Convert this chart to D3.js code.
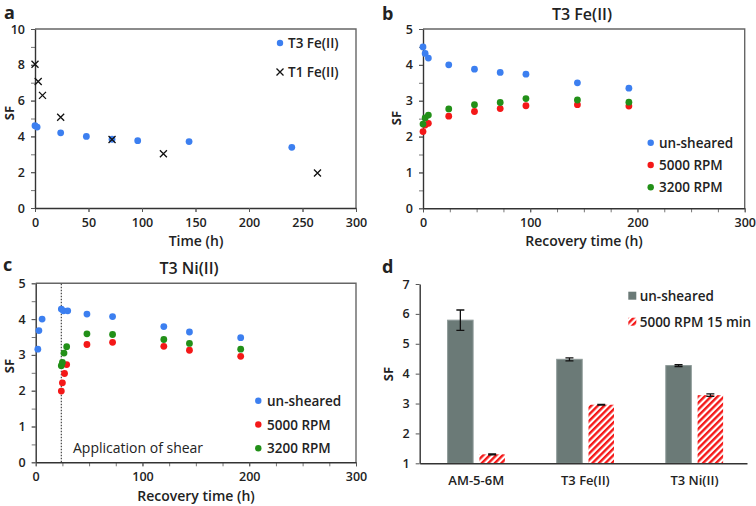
<!DOCTYPE html>
<html><head><meta charset="utf-8">
<script src="https://cdn.jsdelivr.net/npm/d3@7"></script>
<style>
body{margin:0;background:#fff;}
text{font-family:"Open Sans",sans-serif;fill:#222;}
</style></head><body>
<svg id="c" width="756" height="506"></svg>
<script>
// ---- Panel a data ----
const aT3Time = [0, 2, 24, 48, 72, 96, 144, 240];
const aT3SF   = [4.6, 4.52, 4.2, 4.0, 3.84, 3.76, 3.71, 3.39];
const aT1Time = [0, 3, 7, 24, 72, 120, 264];
const aT1SF   = [8.03, 7.07, 6.29, 5.07, 3.83, 3.03, 1.96];

// ---- Panel b data (T3 Fe(II)) ----
const bTime        = [0, 2, 5, 24, 48, 72, 96, 144, 192];
const bUnsheared   = [4.5, 4.32, 4.19, 4.0, 3.88, 3.79, 3.74, 3.5, 3.35];
const b5000        = [2.14, 2.32, 2.37, 2.57, 2.7, 2.78, 2.86, 2.89, 2.85];
const b3200        = [2.35, 2.52, 2.6, 2.77, 2.89, 2.95, 3.06, 3.02, 2.96];

// ---- Panel c data (T3 Ni(II)) ----
const cUnshTime    = [2, 3, 6, 24, 26, 30, 48, 72, 120, 144, 192];
const cUnsheared   = [3.16, 3.68, 4.0, 4.28, 4.23, 4.23, 4.14, 4.07, 3.79, 3.64, 3.48];
const c5000Time    = [24, 25, 27, 29, 48, 72, 120, 144, 192];
const c5000        = [1.99, 2.22, 2.48, 2.73, 3.29, 3.35, 3.24, 3.13, 2.96];
const c3200Time    = [24, 25, 26.5, 29, 48, 72, 120, 144, 192];
const c3200        = [2.7, 2.79, 3.05, 3.23, 3.59, 3.57, 3.43, 3.32, 3.16];
const cShearTime   = 24;

// ---- Panel d data ----
const dCategories  = ["AM-5-6M", "T3 Fe(II)", "T3 Ni(II)"];
const dUnsheared   = [5.79, 4.48, 4.27];
const dUnshErr     = [0.34, 0.05, 0.03];
const d5000        = [1.3, 2.96, 3.28];
const d5000Err     = [0.015, 0.015, 0.04];
const dSeries      = ["un-sheared", "5000 RPM 15 min"];

const seriesNames = ["un-sheared", "5000 RPM", "3200 RPM"];

const BLUE = "#3c7ff0", RED = "#f41818", GREEN = "#229018", GRAY = "#6b7a77";
const svg = d3.select("#c");
const fmt = d3.format("d");

const defs = svg.append("defs");
const pat = defs.append("pattern").attr("id","hatch").attr("patternUnits","userSpaceOnUse")
  .attr("width",4.6).attr("height",4.6).attr("patternTransform","rotate(45)");
pat.append("rect").attr("width",4.6).attr("height",4.6).attr("fill","#fff");
pat.append("rect").attr("width",2.4).attr("height",4.6).attr("fill",RED);

function styleAxis(g){
  g.selectAll("path.domain").attr("stroke","#333").attr("stroke-width",1.4);
  g.selectAll(".tick line").attr("stroke","#555");
  g.selectAll(".tick text").style("font-size","12.5px").style("font-weight","600").attr("fill","#222");
}

function framePanel(x, y, opts){
  const g = svg.append("g");
  const [x0,x1] = x.range(), [y0,y1] = y.range();
  g.append("path").attr("d",`M${x0},${y1}H${x1}V${y0}`).attr("fill","none").attr("stroke","#666").attr("stroke-width",1.4);
  const xm = g.append("g").attr("transform",`translate(0,${y0})`)
    .call(d3.axisBottom(x).tickValues(d3.range(x.domain()[0], x.domain()[1]+0.001, opts.xMinor)).tickSize(4).tickFormat(""));
  xm.select("path.domain").remove();
  xm.selectAll(".tick line").attr("stroke","#777");
  const ym = g.append("g").attr("transform",`translate(${x0},0)`)
    .call(d3.axisLeft(y).tickValues(d3.range(y.domain()[0], y.domain()[1]+0.001, opts.yMinor)).tickSize(4).tickFormat(""));
  ym.select("path.domain").remove();
  ym.selectAll(".tick line").attr("stroke","#777");
  const xa = g.append("g").attr("transform",`translate(0,${y0})`)
    .call(d3.axisBottom(x).tickValues(opts.xTicks).tickFormat(fmt).tickSize(4).tickPadding(6).tickSizeOuter(0));
  styleAxis(xa);
  const ya = g.append("g").attr("transform",`translate(${x0},0)`)
    .call(d3.axisLeft(y).tickValues(opts.yTicks).tickFormat(fmt).tickSize(4).tickPadding(6).tickSizeOuter(0));
  styleAxis(ya);
  return g;
}

function label(x,y,t,size,weight,anchor,rot){
  const tx = svg.append("text").attr("x",x).attr("y",y).text(t)
    .style("font-size",size+"px").style("font-weight",weight).attr("text-anchor",anchor||"start");
  if(rot) tx.attr("transform",`rotate(${rot},${x},${y})`);
  return tx;
}
function dots(g, x, y, xs, ys, color){
  g.selectAll(null).data(xs).enter().append("circle")
    .attr("cx",(d)=>x(d)).attr("cy",(d,i)=>y(ys[i])).attr("r",3.4).attr("fill",color);
}
function cross(g, cx, cy, s){
  g.append("path").attr("d",`M${cx-s},${cy-s}L${cx+s},${cy+s}M${cx-s},${cy+s}L${cx+s},${cy-s}`)
    .attr("stroke","#111").attr("stroke-width",1.3);
}

// ===== Panel a =====
{
  const x = d3.scaleLinear().domain([0,300]).range([35,356]);
  const y = d3.scaleLinear().domain([0,10]).range([208,29]);
  const g = framePanel(x,y,{xTicks:d3.range(0,301,50), yTicks:d3.range(0,11,2), xMinor:50, yMinor:1});
  dots(g,x,y,aT3Time,aT3SF,BLUE);
  aT1Time.forEach((t,i)=>cross(g,x(t),y(aT1SF[i]),3.5));
  label(4,19,"a",18,"700");
  label(196,246,"Time (h)",14,"600","middle");
  label(14,113,"SF",13,"700","middle",-90);
  g.append("circle").attr("cx",280).attr("cy",43).attr("r",3.2).attr("fill",BLUE);
  label(288,48,"T3 Fe(II)",13.5,"600");
  cross(g,280,72,3.5);
  label(288,77,"T1 Fe(II)",13.5,"600");
}

// ===== Panel b =====
{
  const x = d3.scaleLinear().domain([0,300]).range([423,744.7]);
  const y = d3.scaleLinear().domain([0,5]).range([208.3,29]);
  const g = framePanel(x,y,{xTicks:d3.range(0,301,100), yTicks:d3.range(0,6,1), xMinor:25, yMinor:0.5});
  dots(g,x,y,bTime,b5000,RED);
  dots(g,x,y,bTime,b3200,GREEN);
  dots(g,x,y,bTime,bUnsheared,BLUE);
  label(382,20,"b",18,"700");
  label(582,20,"T3 Fe(II)",16,"600","middle");
  label(584,246,"Recovery time (h)",14,"600","middle");
  label(401,118,"SF",13,"700","middle",-90);
  [BLUE,RED,GREEN].forEach((c,i)=>{
    const yy = 142.7 + i*22.3;
    g.append("circle").attr("cx",650.7).attr("cy",yy).attr("r",3.2).attr("fill",c);
    label(659,yy+5,seriesNames[i],13.5,"600");
  });
}

// ===== Panel c =====
{
  const x = d3.scaleLinear().domain([0,300]).range([35.7,356]);
  const y = d3.scaleLinear().domain([0,5]).range([462.3,283.3]);
  const g = framePanel(x,y,{xTicks:d3.range(0,301,100), yTicks:d3.range(0,6,1), xMinor:25, yMinor:0.5});
  g.append("line").attr("x1",x(cShearTime)).attr("x2",x(cShearTime)).attr("y1",y(0)).attr("y2",y(5))
    .attr("stroke","#444").attr("stroke-width",1.2).attr("stroke-dasharray","1.5,1.5");
  dots(g,x,y,c5000Time,c5000,RED);
  dots(g,x,y,c3200Time,c3200,GREEN);
  dots(g,x,y,cUnshTime,cUnsheared,BLUE);
  label(3,271,"c",18,"700");
  label(189,274,"T3 Ni(II)",16,"600","middle");
  label(196,501,"Recovery time (h)",14,"600","middle");
  label(14,366,"SF",13,"700","middle",-90);
  label(73,453,"Application of shear",14,"500");
  [BLUE,RED,GREEN].forEach((c,i)=>{
    const yy = 400.7 + i*23.8;
    g.append("circle").attr("cx",258.3).attr("cy",yy).attr("r",3.2).attr("fill",c);
    label(267,yy+5,seriesNames[i],13.5,"600");
  });
}

// ===== Panel d =====
{
  const x = d3.scaleBand().domain(dCategories).range([419.7,747]);
  const y = d3.scaleLinear().domain([1,7]).range([463.3,284]);
  const g = svg.append("g");
  const bw = 25.5, gap = 6.3;
  const ya = g.append("g").attr("transform",`translate(${x.range()[0]},0)`)
    .call(d3.axisLeft(y).tickValues(d3.range(1,8,1)).tickFormat(fmt).tickSize(4).tickPadding(6).tickSizeOuter(0));
  styleAxis(ya);
  dCategories.forEach((c,i)=>{
    const cx = x(c) + x.bandwidth()/2 + 2;
    const xu = cx - gap/2 - bw, xs = cx + gap/2;
    g.append("rect").attr("x",xu).attr("y",y(dUnsheared[i])).attr("width",bw)
      .attr("height",y(1)-y(dUnsheared[i])).attr("fill",GRAY).attr("stroke","#8d9a98").attr("stroke-width",1);
    g.append("rect").attr("x",xs).attr("y",y(d5000[i])).attr("width",bw)
      .attr("height",y(1)-y(d5000[i])).attr("fill","url(#hatch)");
    [[xu,dUnsheared[i],dUnshErr[i]],[xs,d5000[i],d5000Err[i]]].forEach(([bx,v,e])=>{
      const mx = bx+bw/2;
      g.append("path").attr("d",`M${mx},${y(v+e)}V${y(v-e)}M${mx-4},${y(v+e)}H${mx+4}M${mx-4},${y(v-e)}H${mx+4}`)
        .attr("stroke","#111").attr("stroke-width",1.3).attr("fill","none");
    });
  });
  const xa = g.append("g").attr("transform",`translate(0,${y(1)})`)
    .call(d3.axisBottom(x).tickSize(0).tickPadding(12).tickSizeOuter(0));
  styleAxis(xa);
  xa.selectAll(".tick text").style("font-size","13px").attr("dx",2);
  label(382,273,"d",18,"700");
  label(393,374,"SF",13,"700","middle",-90);
  g.append("rect").attr("x",628.3).attr("y",291.7).attr("width",8).attr("height",8).attr("fill",GRAY);
  label(639.7,300.7,dSeries[0],13.5,"600");
  g.append("rect").attr("x",628.3).attr("y",317.7).attr("width",8).attr("height",8).attr("fill","url(#hatch)");
  label(639.7,326.7,dSeries[1],13.5,"600");
}
</script>
</body></html>
